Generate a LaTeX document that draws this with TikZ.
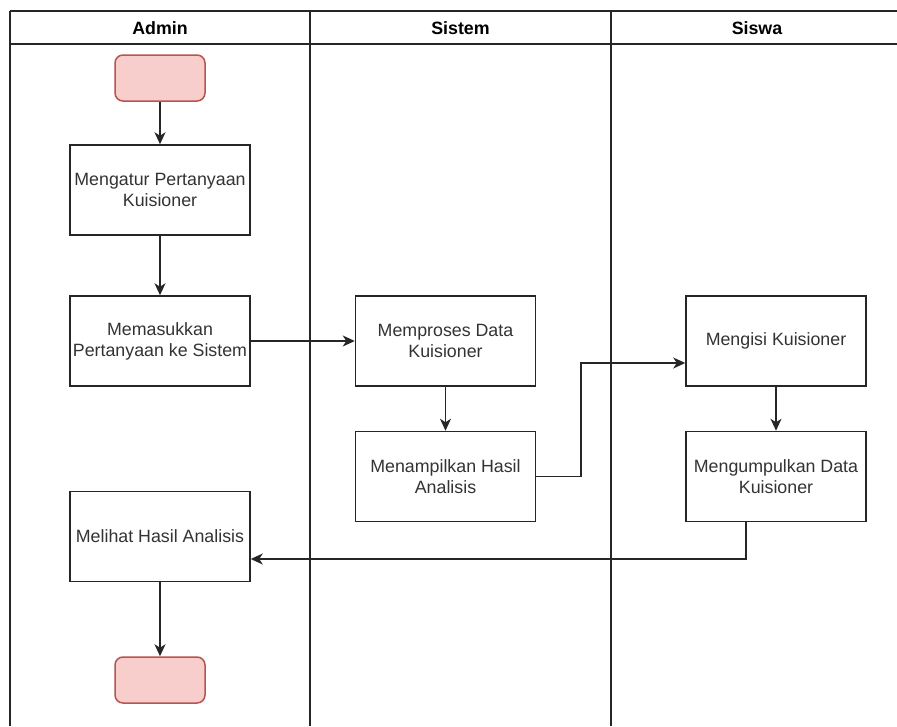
\documentclass[tikz,border=0pt]{standalone}
\usepackage{fontspec}
\setmainfont{Liberation Sans}
\usetikzlibrary{arrows.meta}
\definecolor{startfill}{HTML}{F8CECC}
\definecolor{startdraw}{HTML}{B85450}
\definecolor{txt}{HTML}{333333}
\begin{document}
\begin{tikzpicture}[x=1pt,y=-1pt,
  lane/.style={line width=1.5pt,draw=black!85},
  hdr/.style={font=\fontsize{17.8}{21}\selectfont\bfseries,text=black,inner sep=0pt},
  box/.style={draw=black!85,line width=1.5pt,minimum width=180pt,minimum height=90pt,inner sep=0pt,
    align=center,text=txt,font=\fontsize{17.8}{21}\selectfont},
  term/.style={draw=startdraw,fill=startfill,line width=1.5pt,rounded corners=8pt,minimum width=90pt,minimum height=46pt,inner sep=0pt},
  conn/.style={line width=1.5pt,draw=black!85,-{Stealth[length=12pt,width=11pt,inset=3.5pt]}}]
\useasboundingbox (0,0) rectangle (897,726);
\fill[white] (0,0) rectangle (897,726);
% lanes
\draw[lane] (10,11) -- (897,11);
\draw[lane] (10,44) -- (897,44);
\draw[lane] (10,11) -- (10,726);
\draw[lane] (310,11) -- (310,726);
\draw[lane] (611,11) -- (611,726);
\node[hdr] (hA) at (160,28) {Admin};
\node[hdr] (hB) at (460.5,28) {Sistem};
\node[hdr] (hC) at (757,28) {Siswa};
% nodes
\node[term] (start) at (160,78) {};
\node[box] (atur) at (160,190) {Mengatur Pertanyaan\\Kuisioner};
\node[box] (masuk) at (160,341) {Memasukkan\\Pertanyaan ke Sistem};
\node[box] (lihat) at (160,536.5) {Melihat Hasil Analisis};
\node[term] (end) at (160,680) {};
\node[box] (proses) at (445.5,341) {Memproses Data\\Kuisioner};
\node[box] (tampil) at (445.5,476.5) {Menampilkan Hasil\\Analisis};
\node[box] (isi) at (776,341) {Mengisi Kuisioner};
\node[box] (kumpul) at (776,476.5) {Mengumpulkan Data\\Kuisioner};
\coordinate (c1) at (581,476.5);
\coordinate (c2) at (581,363);
\coordinate (c3) at (746,559);
% connectors
\draw[conn] (start) -- (atur);
\draw[conn] (atur) -- (masuk);
\draw[conn] (masuk) -- (proses);
\draw[conn] (proses) -- (tampil);
\draw[conn] (tampil.east) -- (c1) -- (c2) -- (isi.west |- c2);
\draw[conn] (isi) -- (kumpul);
\draw[conn] (kumpul.south -| c3) -- (c3) -- (lihat.east |- c3);
\draw[conn] (lihat) -- (end);
\end{tikzpicture}
\end{document}
